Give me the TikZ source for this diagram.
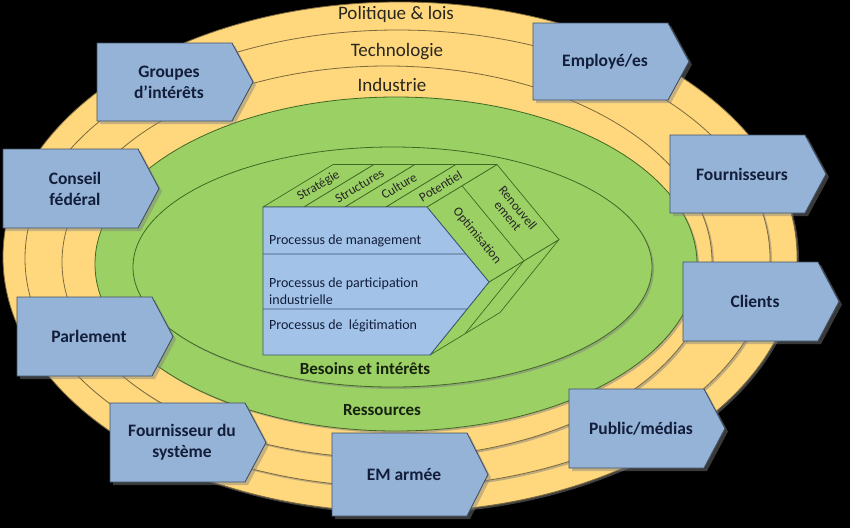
\documentclass[tikz,border=0pt]{standalone}
\usepackage{fontspec}
\setmainfont{Carlito}
\usetikzlibrary{shadows,calc}
\definecolor{ring}{RGB}{255,216,125}
\definecolor{ringline}{RGB}{125,105,60}
\definecolor{grn}{RGB}{155,208,100}
\definecolor{grnline}{RGB}{65,105,35}
\definecolor{boxfill}{RGB}{149,179,215}
\definecolor{boxline}{RGB}{65,80,100}
\definecolor{frontfill}{RGB}{163,194,232}
\definecolor{frontline}{RGB}{60,85,115}
\definecolor{navy}{RGB}{18,30,58}
\definecolor{ringtxt}{RGB}{40,38,30}
\definecolor{grntxt}{RGB}{22,34,14}
\tikzset{
 ringell/.style={fill=ring, draw=ringline, line width=0.8pt, drop shadow={shadow xshift=2pt,shadow yshift=-2pt,opacity=0.5}},
 grnell/.style={fill=grn, draw=grnline, line width=0.8pt, drop shadow={shadow xshift=2pt,shadow yshift=-2pt,opacity=0.5}},
 boxshape/.style={fill=boxfill, draw=boxline, line width=0.9pt, line join=miter, drop shadow={shadow xshift=3pt,shadow yshift=-3pt,opacity=0.45}},
 boxtext/.style={text=navy, font=\fontsize{17.5}{21}\selectfont\bfseries, align=center, inner sep=0pt},
 ringlabel/.style={text=ringtxt, font=\fontsize{19}{22}\selectfont, inner sep=0pt},
 midlabel/.style={text=grntxt, font=\fontsize{17}{20}\selectfont\bfseries, inner sep=0pt},
 proclabel/.style={text=navy, font=\fontsize{14}{17}\selectfont, anchor=west, align=left, inner sep=0pt},
 facelabel/.style={text=black!85, font=\fontsize{13}{13}\selectfont, inner sep=0pt, align=center},
 face/.style={fill=grn, draw=grnline, line width=0.7pt, line join=round},
 frontface/.style={fill=frontfill, draw=frontline, line width=0.8pt, line join=round},
}
\newcommand{\ArrowBox}[5]{%
  \coordinate (#1-c) at (#2,#3);
  \draw[boxshape] ([xshift=-72pt,yshift=#4pt]#1-c) -- ([xshift=63pt,yshift=#4pt]#1-c) -- ([xshift=84pt]#1-c) -- ([xshift=63pt,yshift=-#4pt]#1-c) -- ([xshift=-72pt,yshift=-#4pt]#1-c) -- cycle;
  \node[boxtext] (#1) at (#1-c) {#5};
}
\begin{document}
\begin{tikzpicture}[x=1pt,y=-1pt]
\fill[black] (0,0) rectangle (850,528);
\useasboundingbox (0,0) rectangle (850,528);
% rings
\path[ringell] (400,257) ellipse [x radius=397pt, y radius=255pt];
\path[ringell] (397.5,258.5) ellipse [x radius=372.5pt, y radius=228.5pt];
\path[ringell] (387,262) ellipse [x radius=325pt, y radius=196pt];
\path[grnell] (396,264) ellipse [x radius=301pt, y radius=167pt];
\path[grnell] (392.5,267) ellipse [x radius=259.5pt, y radius=120pt];
% ring labels
\node[ringlabel] (pol) at (396,14) {Politique \& lois};
\node[ringlabel] (tech) at (397,52) {Technologie};
\node[ringlabel] (ind) at (392,85) {Industrie};
\node[midlabel] (bes) at (365,369) {Besoins et intérêts};
\node[midlabel] (res) at (382,410) {Ressources};
% 3D block
\coordinate (fA) at (263,207);
\coordinate (fB) at (427,207);
\coordinate (fT) at (489,282);
\coordinate (fC) at (430,355);
\coordinate (fD) at (263,355);
\coordinate (bA) at (333,164.5);
\coordinate (bB) at (497,164.5);
\coordinate (bT) at (559,239.5);
\coordinate (bC) at (500,312.5);
\coordinate (mB) at ($(fB)!0.5!(bB)$);
\coordinate (mT) at ($(fT)!0.5!(bT)$);
\coordinate (mC) at ($(fC)!0.5!(bC)$);
% lower side face
\draw[face] (fT) -- (fC) -- (bC) -- (bT) -- cycle;
\draw[face] (mT) -- (mC);
% upper side face
\draw[face] (fB) -- (fT) -- (bT) -- (bB) -- cycle;
\draw[face] (mB) -- (mT);
% top face strips
\foreach \k in {0,1,2,3}{
  \pgfmathsetmacro{\xa}{263+41*\k}
  \pgfmathsetmacro{\xb}{263+41*(\k+1)}
  \draw[face] (\xa,207) -- (\xb,207) -- (\xb+70,164.5) -- (\xa+70,164.5) -- cycle;
}
% front face
\draw[frontface] (fA) -- (fB) -- (fT) -- (fC) -- (fD) -- cycle;
\draw[frontface] (263,254) -- ($(fB)!0.6267!(fT)$);
\draw[frontface] (263,309) -- ($(fT)!0.3699!(fC)$);
% labels on block
\node[facelabel, rotate=31] (strat) at (318.5,186) {Stratégie};
\node[facelabel, rotate=31] (struc) at (359.5,186) {Structures};
\node[facelabel, rotate=31] (cult) at (399,186) {Culture};
\node[facelabel, rotate=31] (pot) at (440.5,186) {Potentiel};
\node[facelabel, rotate=-50.4] (opt) at (477,236) {Optimisation};
\node[facelabel, rotate=-50.4] (ren) at (513,212) {Renouvell\\ement};
\node[proclabel] (pm) at (269,241) {Processus de management};
\node[proclabel] (pp) at (269,291.5) {Processus de participation\\industrielle};
\node[proclabel] (pl) at (269,326) {Processus de~ légitimation};
% arrow boxes
\ArrowBox{grp}{169}{82}{39}{Groupes\\d’intérêts}
\ArrowBox{emp}{605}{61.5}{38.5}{Employé/es}
\ArrowBox{cf}{75}{188.5}{39.5}{Conseil\\fédéral}
\ArrowBox{four}{742}{174}{39}{Fournisseurs}
\ArrowBox{cli}{755}{301.5}{39.5}{Clients}
\ArrowBox{par}{89}{336.5}{39.5}{Parlement}
\ArrowBox{fds}{182}{442.5}{39.5}{Fournisseur du\\système}
\ArrowBox{em}{404}{474.5}{41.5}{EM armée}
\ArrowBox{pub}{641}{428.5}{39.5}{Public/médias}
\end{tikzpicture}
\end{document}
